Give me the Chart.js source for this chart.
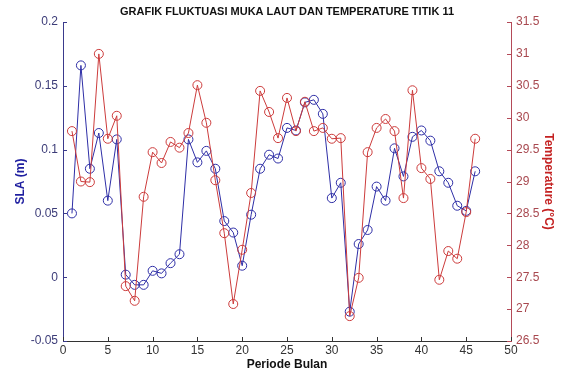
<!DOCTYPE html>
<html>
<head>
<meta charset="utf-8">
<script src="https://cdn.jsdelivr.net/npm/chart.js@4"></script>
<style>
  html, body { margin: 0; padding: 0; background: #fff; }
  canvas { display: block; }
</style>
</head>
<body>
<canvas id="grafik" width="566" height="373"></canvas>
<script>
// periode (bulan ke-)
var periode = [1, 2, 3, 4, 5, 6, 7, 8, 9, 10, 11, 12, 13, 14, 15, 16, 17, 18, 19, 20, 21, 22, 23,
    24, 25, 26, 27, 28, 29, 30, 31, 32, 33, 34, 35, 36, 37, 38, 39, 40, 41, 42, 43, 44, 45, 46];

// SLA (m)
var sla = [0.050, 0.166, 0.085, 0.113, 0.060, 0.108, 0.002, -0.006, -0.006, 0.005, 0.003, 0.011,
    0.018, 0.108, 0.090, 0.099, 0.085, 0.044, 0.035, 0.009, 0.049, 0.085, 0.096, 0.093, 0.117,
    0.115, 0.137, 0.139, 0.128, 0.062, 0.074, -0.027, 0.026, 0.037, 0.071, 0.060, 0.101, 0.079,
    0.110, 0.115, 0.107, 0.083, 0.074, 0.056, 0.052, 0.083];

// temperature (C)
var suhu = [29.79, 29.00, 28.99, 31.00, 29.67, 30.03, 27.36, 27.13, 28.76, 29.46, 29.29, 29.62,
    29.53, 29.76, 30.51, 29.92, 29.02, 28.19, 27.08, 27.93, 28.82, 30.42, 30.09, 29.68, 30.31,
    29.79, 30.25, 29.79, 29.84, 29.67, 29.68, 26.89, 27.49, 29.46, 29.84, 29.98, 29.79, 28.74,
    30.43, 29.21, 29.04, 27.46, 27.91, 27.79, 28.52, 29.67];

var periodeTicks = [0, 5, 10, 15, 20, 25, 30, 35, 40, 45, 50];
var slaTicks = [-0.05, 0, 0.05, 0.1, 0.15, 0.2];
var suhuTicks = [26.5, 27, 27.5, 28, 28.5, 29, 29.5, 30, 30.5, 31, 31.5];

var BIRU = '#2e2ea6';
var MERAH = '#cc3b3b';

function pasang(xs, ys) {
    return xs.map(function (x, i) { return { x: x, y: ys[i] }; });
}

function setTicks(list) {
    return function (scale) {
        scale.ticks = list.map(function (v) { return { value: v }; });
    };
}

// matlab style ticks pointing into the plot
var tickDalam = {
    id: 'tickDalam',
    afterDraw: function (chart) {
        var ctx = chart.ctx, a = chart.chartArea, s = chart.scales;
        ctx.save();
        ctx.lineWidth = 1;
        ctx.strokeStyle = '#333';
        s.x.ticks.forEach(function (t) {
            var px = Math.round(s.x.getPixelForValue(t.value)) + 0.5;
            ctx.beginPath(); ctx.moveTo(px, a.bottom); ctx.lineTo(px, a.bottom - 4); ctx.stroke();
        });
        ctx.strokeStyle = '#3a3a8c';
        s.ySla.ticks.forEach(function (t) {
            var py = Math.round(s.ySla.getPixelForValue(t.value)) + 0.5;
            ctx.beginPath(); ctx.moveTo(a.left, py); ctx.lineTo(a.left + 4, py); ctx.stroke();
        });
        ctx.strokeStyle = '#b44a58';
        s.ySuhu.ticks.forEach(function (t) {
            var py = Math.round(s.ySuhu.getPixelForValue(t.value)) + 0.5;
            ctx.beginPath(); ctx.moveTo(a.right, py); ctx.lineTo(a.right - 4, py); ctx.stroke();
        });
        ctx.restore();
    }
};

var ctx = document.getElementById('grafik').getContext('2d');
var chart = new Chart(ctx, {
    type: 'line',
    data: {
        datasets: [{
            label: 'Temperature',
            data: pasang(periode, suhu),
            yAxisID: 'ySuhu',
            borderColor: MERAH,
            borderWidth: 1,
            backgroundColor: 'rgba(0,0,0,0)',
            pointStyle: 'circle',
            pointRadius: 4.5,
            pointBorderWidth: 1,
            pointBorderColor: MERAH,
            pointBackgroundColor: 'rgba(0,0,0,0)',
            tension: 0
        }, {
            label: 'SLA',
            data: pasang(periode, sla),
            yAxisID: 'ySla',
            borderColor: BIRU,
            borderWidth: 1,
            backgroundColor: 'rgba(0,0,0,0)',
            pointStyle: 'circle',
            pointRadius: 4.5,
            pointBorderWidth: 1,
            pointBorderColor: BIRU,
            pointBackgroundColor: 'rgba(0,0,0,0)',
            tension: 0
        }]
    },
    options: {
        responsive: false,
        animation: false,
        layout: { padding: 0 },
        plugins: {
            legend: { display: false },
            tooltip: { enabled: false },
            title: {
                display: true,
                fullSize: false,
                text: 'GRAFIK FLUKTUASI MUKA LAUT DAN TEMPERATURE TITIK 11',
                color: '#111',
                font: { family: 'Liberation Sans', size: 11, weight: 'bold' },
                padding: { top: 5.5, bottom: 3.3 }
            }
        },
        scales: {
            x: {
                type: 'linear',
                min: 0,
                max: 50,
                afterBuildTicks: setTicks(periodeTicks),
                afterFit: function (scale) { scale.height = 32; },
                grid: { drawOnChartArea: false, drawTicks: false },
                border: { display: true, color: '#333', width: 1 },
                ticks: {
                    color: '#333',
                    padding: 2,
                    maxRotation: 0,
                    font: { family: 'Liberation Sans', size: 12 },
                    callback: function (v) { return String(v); }
                },
                title: {
                    display: true,
                    text: 'Periode Bulan',
                    color: '#111',
                    font: { family: 'Liberation Sans', size: 12, weight: 'bold' },
                    padding: { top: 0, bottom: 1 }
                }
            },
            ySla: {
                type: 'linear',
                position: 'left',
                min: -0.05,
                max: 0.2,
                afterBuildTicks: setTicks(slaTicks),
                afterFit: function (scale) { scale.width = 63; },
                grid: { drawOnChartArea: false, drawTicks: false },
                border: { display: true, color: '#3a3a8c', width: 1 },
                ticks: {
                    color: '#3c3c78',
                    padding: 5,
                    font: { family: 'Liberation Sans', size: 12 },
                    callback: function (v) { return String(v); }
                },
                title: {
                    display: true,
                    text: 'SLA (m)',
                    color: '#1f1fa0',
                    font: { family: 'Liberation Sans', size: 12, weight: 'bold' },
                    padding: { top: 13, bottom: 0 }
                }
            },
            ySuhu: {
                type: 'linear',
                position: 'right',
                min: 26.5,
                max: 31.5,
                afterBuildTicks: setTicks(suhuTicks),
                afterFit: function (scale) { scale.width = 55; },
                grid: { drawOnChartArea: false, drawTicks: false },
                border: { display: true, color: '#b44a58', width: 1 },
                ticks: {
                    color: '#a8484f',
                    padding: 5,
                    font: { family: 'Liberation Sans', size: 12 },
                    callback: function (v) { return String(v); }
                },
                title: {
                    display: true,
                    text: 'Temperature (\u00B0C)',
                    color: '#c42222',
                    font: { family: 'Liberation Sans', size: 12, weight: 'bold' },
                    padding: { top: 10, bottom: 0 }
                }
            }
        }
    },
    plugins: [tickDalam]
});
</script>
</body>
</html>
